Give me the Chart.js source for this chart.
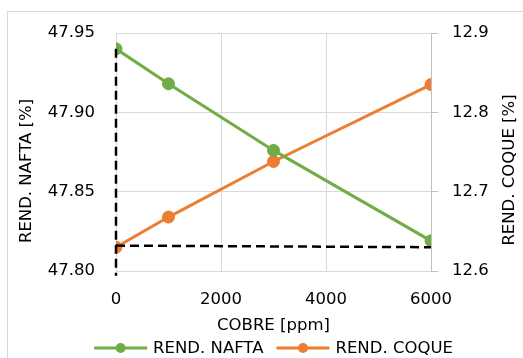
<!DOCTYPE html>
<html>
<head>
<meta charset="utf-8">
<script src="https://cdn.jsdelivr.net/npm/chart.js@4.4.1/dist/chart.umd.min.js"></script>
<style>
  html, body { margin: 0; padding: 0; background: #fff; }
  canvas { display: block; }
</style>
</head>
<body>
<canvas id="chart" width="523" height="358"></canvas>
<script>
// values
const copperPpm = [0, 1000, 3000, 6000];
const naftaYield = [47.940, 47.918, 47.876, 47.819];
const coqueYield = [12.630, 12.668, 12.738, 12.835];

// dashed guide lines (plotted against the left axis)
const guideVertX = [0, 0];
const guideVertY = [47.940, 47.797];
const guideHorX = [0, 6000];
const guideHorY = [47.816, 47.815];

const xTicks = [0, 2000, 4000, 6000];
const leftTicks = [47.80, 47.85, 47.90, 47.95];
const rightTicks = [12.6, 12.7, 12.8, 12.9];

const FONT = "'DejaVu Sans', sans-serif";
const FONT_SIZE = 16.5;
const TEXT = "#000000";
const GRID = "#d9d9d9";
const GREEN = "#70ad47";
const ORANGE = "#ed7d31";

const toPoints = (xs, ys) => xs.map((x, i) => ({ x: x, y: ys[i] }));

// outer frame, axis titles and the line+marker legend
const decorations = {
  id: "decorations",
  beforeDraw(chart) {
    const ctx = chart.ctx;
    ctx.save();
    ctx.fillStyle = "#fff";
    ctx.fillRect(0, 0, chart.width, chart.height);
    ctx.strokeStyle = GRID;
    ctx.lineWidth = 1;
    ctx.strokeRect(7.5, 11.5, 540, 380);
    ctx.restore();
  },
  afterDraw(chart) {
    const ctx = chart.ctx;
    ctx.save();
    ctx.fillStyle = TEXT;
    ctx.font = FONT_SIZE + "px " + FONT;
    ctx.textAlign = "center";
    ctx.textBaseline = "middle";

    // y axis titles
    ctx.save();
    ctx.translate(27, 171);
    ctx.rotate(-Math.PI / 2);
    ctx.fillText("REND. NAFTA [%]", 0, 0);
    ctx.restore();

    ctx.save();
    ctx.translate(510, 170);
    ctx.rotate(-Math.PI / 2);
    ctx.fillText("REND. COQUE [%]", 0, 0);
    ctx.restore();

    // legend
    const items = chart.data.datasets.filter((d) => d.inLegend);
    const lineLen = 53;
    const gap = 6;
    const itemGap = 13;
    const widths = items.map((d) => lineLen + gap + ctx.measureText(d.label).width);
    const total = widths.reduce((a, b) => a + b, 0) + itemGap * (items.length - 1);
    const area = chart.chartArea;
    let x = (area.left + area.right) / 2 - total / 2;
    const y = 348;
    ctx.textAlign = "left";
    items.forEach((d, i) => {
      ctx.strokeStyle = d.borderColor;
      ctx.lineWidth = 3;
      ctx.beginPath();
      ctx.moveTo(x, y);
      ctx.lineTo(x + lineLen, y);
      ctx.stroke();
      ctx.fillStyle = d.borderColor;
      ctx.beginPath();
      ctx.arc(x + lineLen / 2, y, 5, 0, Math.PI * 2);
      ctx.fill();
      ctx.fillStyle = TEXT;
      ctx.fillText(d.label, x + lineLen + gap, y + 1);
      x += widths[i] + itemGap;
    });
    ctx.restore();
  },
};

new Chart(document.getElementById("chart").getContext("2d"), {
  type: "scatter",
  data: {
    datasets: [
      {
        label: "guide vertical",
        data: toPoints(guideVertX, guideVertY),
        yAxisID: "y",
        showLine: true,
        borderColor: "#000",
        borderWidth: 2.5,
        borderDash: [9, 5],
        pointRadius: 0,
        clip: false,
        order: 0,
      },
      {
        label: "guide horizontal",
        data: toPoints(guideHorX, guideHorY),
        yAxisID: "y",
        showLine: true,
        borderColor: "#000",
        borderWidth: 2.5,
        borderDash: [9, 5],
        pointRadius: 0,
        clip: false,
        order: 0,
      },
      {
        label: "REND. NAFTA",
        inLegend: true,
        data: toPoints(copperPpm, naftaYield),
        yAxisID: "y",
        showLine: true,
        borderColor: GREEN,
        backgroundColor: GREEN,
        borderWidth: 3,
        pointRadius: 6,
        pointBorderWidth: 1,
        order: 1,
      },
      {
        label: "REND. COQUE",
        inLegend: true,
        data: toPoints(copperPpm, coqueYield),
        yAxisID: "y2",
        showLine: true,
        borderColor: ORANGE,
        backgroundColor: ORANGE,
        borderWidth: 3,
        pointRadius: 6,
        pointBorderWidth: 1,
        order: 1,
      },
    ],
  },
  options: {
    responsive: false,
    animation: false,
    devicePixelRatio: 1,
    layout: { padding: { top: 33, bottom: 21, left: 0, right: 0 } },
    plugins: {
      legend: { display: false },
      tooltip: { enabled: false },
    },
    scales: {
      x: {
        type: "linear",
        min: 0,
        max: 6000,
        afterBuildTicks: (scale) => {
          scale.ticks = xTicks.map((v) => ({ value: v }));
        },
        afterFit: (scale) => {
          scale.height = 66;
        },
        ticks: {
          padding: 19,
          color: TEXT,
          font: { family: FONT, size: FONT_SIZE },
          callback: (v) => String(v),
        },
        grid: { color: GRID, drawTicks: false },
        border: { display: false },
        title: {
          display: true,
          text: "COBRE [ppm]",
          color: TEXT,
          font: { family: FONT, size: FONT_SIZE },
          padding: { top: 0, bottom: 1 },
        },
      },
      y: {
        type: "linear",
        position: "left",
        min: 47.8,
        max: 47.95,
        afterBuildTicks: (scale) => {
          scale.ticks = leftTicks.map((v) => ({ value: v }));
        },
        afterFit: (scale) => {
          scale.width = 116;
        },
        ticks: {
          padding: 21,
          color: TEXT,
          font: { family: FONT, size: FONT_SIZE },
          callback: (v) => Number(v).toFixed(2),
        },
        grid: { color: GRID, drawTicks: false },
        border: { display: false },
      },
      y2: {
        type: "linear",
        position: "right",
        min: 12.6,
        max: 12.9,
        afterBuildTicks: (scale) => {
          scale.ticks = rightTicks.map((v) => ({ value: v }));
        },
        afterFit: (scale) => {
          scale.width = 92;
        },
        ticks: {
          padding: 14,
          color: TEXT,
          font: { family: FONT, size: FONT_SIZE },
          callback: (v) => Number(v).toFixed(1),
        },
        grid: { color: "#bfbfbf", drawOnChartArea: false, drawTicks: true, tickLength: 7 },
        border: { display: true, color: "#bfbfbf" },
      },
    },
  },
  plugins: [decorations],
});
</script>
</body>
</html>
